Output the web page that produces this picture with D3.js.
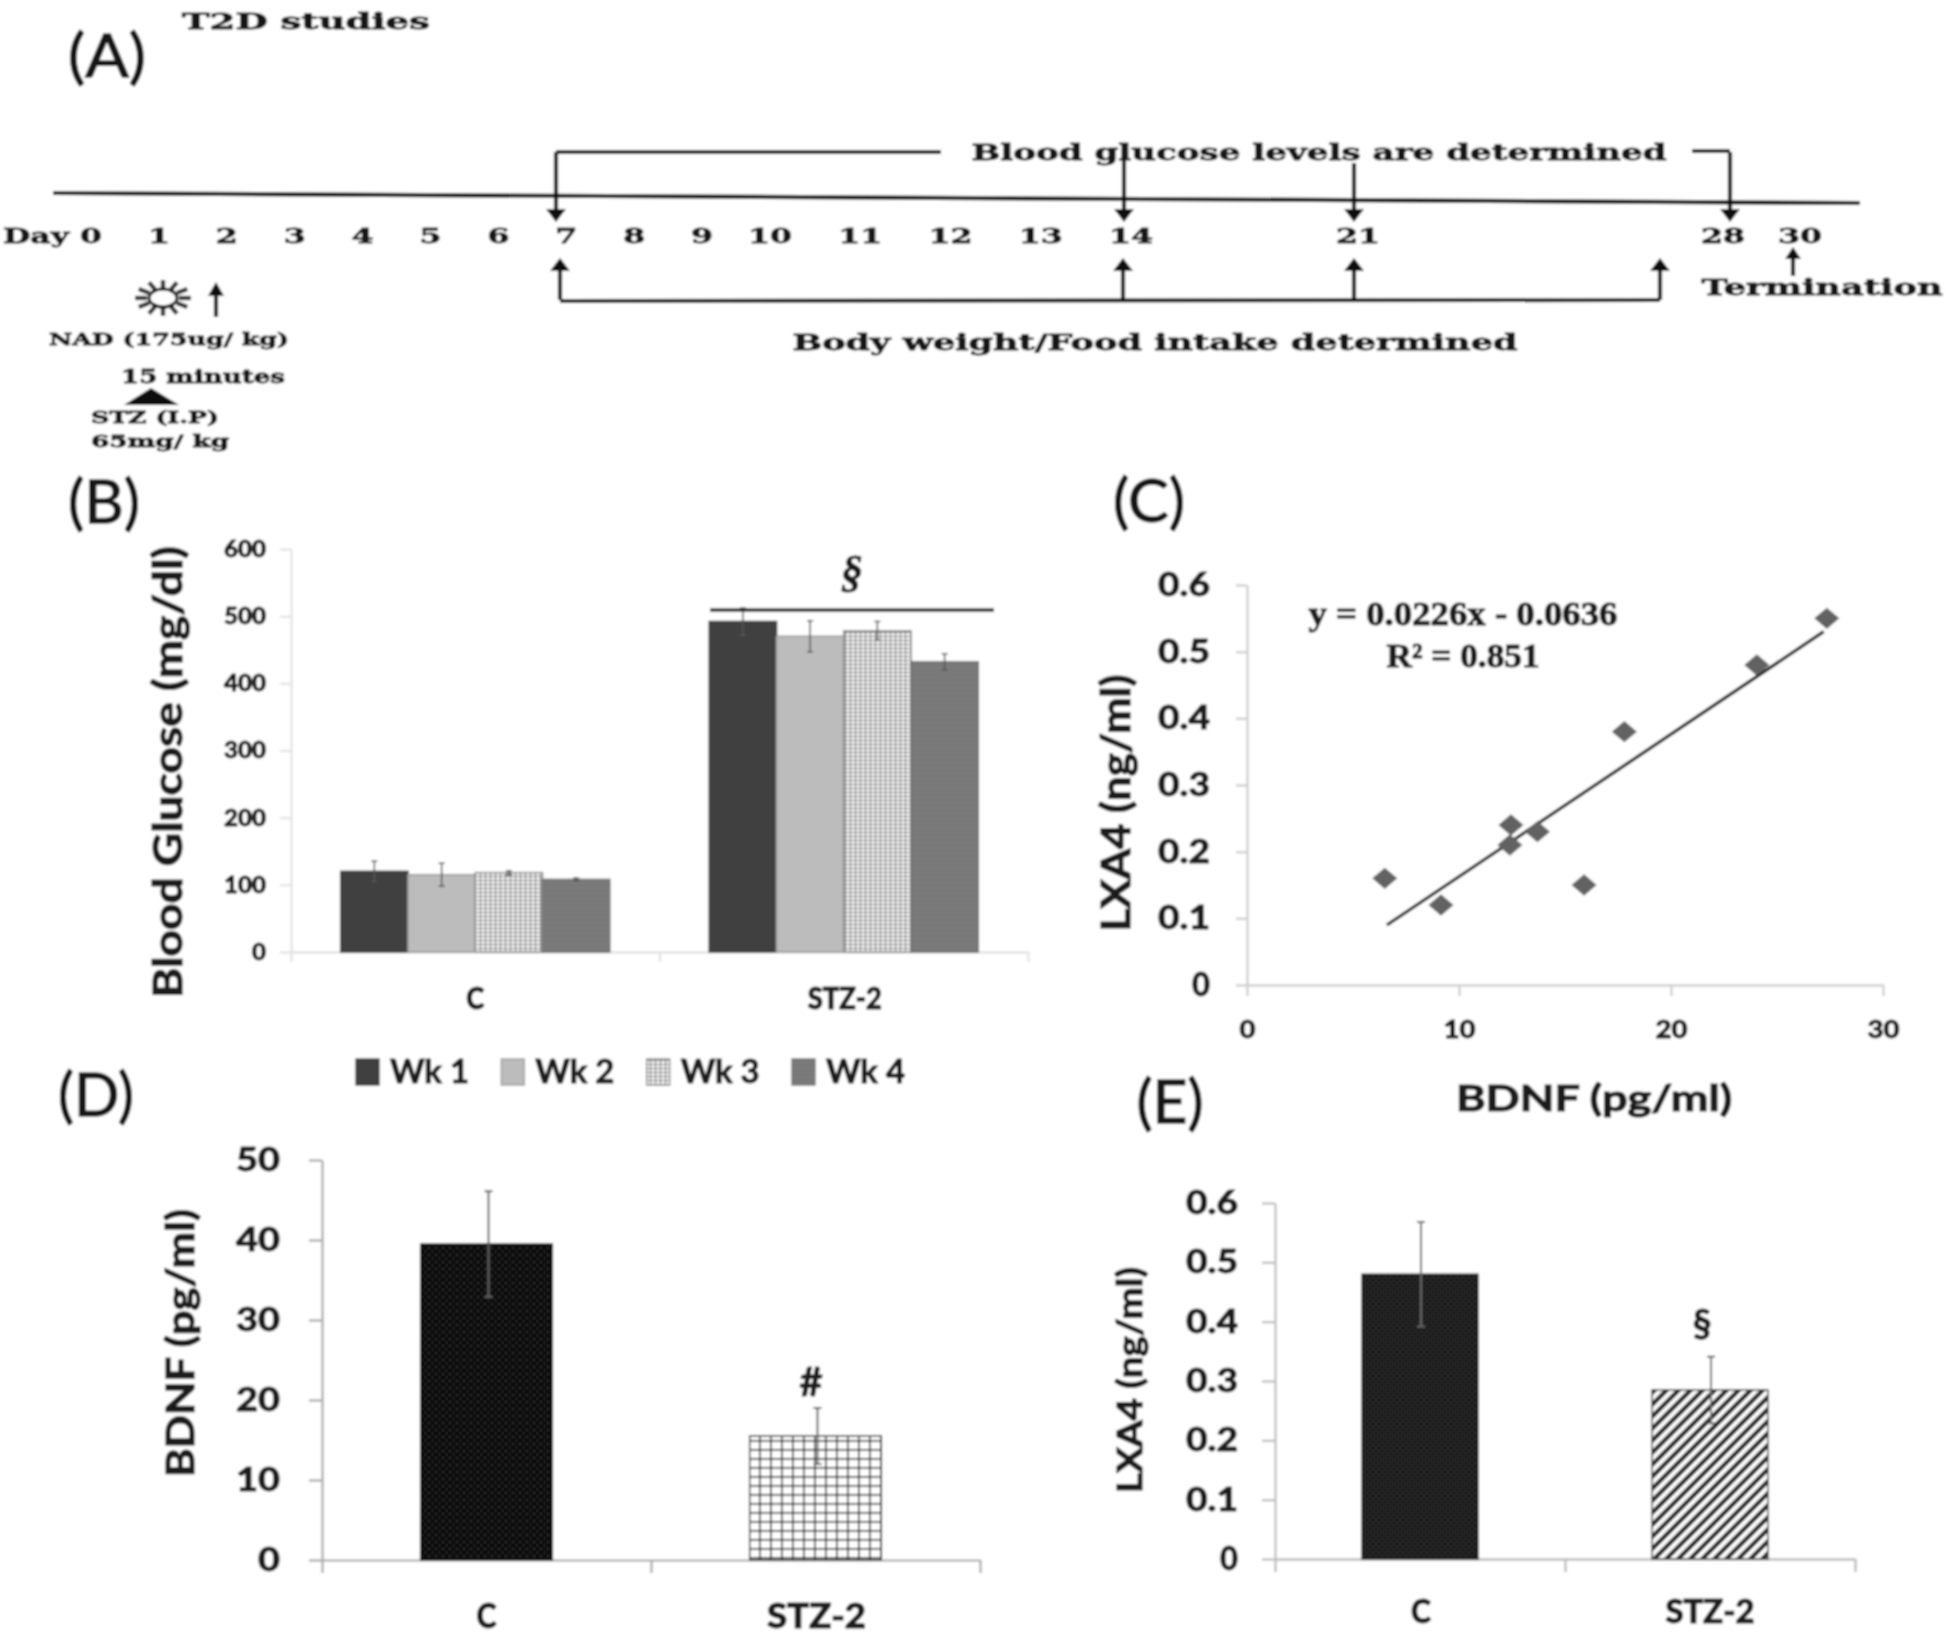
<!DOCTYPE html>
<html><head><meta charset="utf-8">
<script src="https://cdn.jsdelivr.net/npm/d3@7"></script>
<style>html,body{margin:0;padding:0;background:#fff}svg{display:block}</style>
</head><body><svg id="c" width="1946" height="1636"></svg>
<script>
// ---- data ----
const weeks = ["Wk 1","Wk 2","Wk 3","Wk 4"];
const groups = ["C","STZ-2"];
const glucoseC = [120,115,118,108];
const glucoseS = [492,470,478,432];
const glucoseErrC = [15,17,3,2];
const glucoseErrS = [20,23,14,12];
const glucoseTicks = [0,100,200,300,400,500,600];

const bdnfX = [6.5,9.15,12.4,12.45,13.7,15.9,17.8,24.05,27.35];
const lxaY  = [0.16,0.12,0.21,0.24,0.23,0.15,0.38,0.48,0.55];
const trendX = [6.6,27.2];
const trendY = [0.09,0.53];
const scatterXTicks = [0,10,20,30];
const lxaTicks = [0,0.1,0.2,0.3,0.4,0.5,0.6];

const bdnfVals = [39.5,15.5];
const bdnfErr = [6.6,3.5];
const bdnfTicks = [0,10,20,30,40,50];
const lxaVals = [0.48,0.285];
const lxaErr = [0.088,0.056];

const dayLabels = [0,1,2,3,4,5,6,7,8,9,10,11,12,13,14,21,28,30];
const arrowDays = [7,14,21,28];

// ---- setup ----
const svg = d3.select("#c");
const defs = svg.append("defs");
defs.append("filter").attr("id","soft").attr("filterUnits","userSpaceOnUse")
  .attr("x",0).attr("y",0).attr("width",1946).attr("height",1636)
  .append("feGaussianBlur").attr("stdDeviation",0.95);
function pat(id,w,h,bg,draw,tr){
  const p=defs.append("pattern").attr("id",id).attr("patternUnits","userSpaceOnUse").attr("width",w).attr("height",h);
  if(tr)p.attr("patternTransform",tr);
  p.append("rect").attr("width",w).attr("height",h).attr("fill",bg);
  draw(p);
}
pat("pWk3",5,4,"#f4f4f4",p=>{
  p.append("path").attr("d","M0 0H5M0 0V4").attr("stroke","#4f4f4f").attr("stroke-width",1.7);
});
pat("pWk4",6,5,"#7b7b7b",p=>{
  p.append("path").attr("d","M0 0H6").attr("stroke","#6c6c6c").attr("stroke-width",1);
});
pat("pWk1",8,6,"#404040",p=>{
  p.append("path").attr("d","M0 0V6").attr("stroke","#373737").attr("stroke-width",1);
});
pat("pDotK",7,7,"#0d0d0d",p=>{
  p.append("circle").attr("cx",2).attr("cy",2).attr("r",.9).attr("fill","#3a3a3a");
  p.append("circle").attr("cx",5.5).attr("cy",5.5).attr("r",.9).attr("fill","#3a3a3a");
});
pat("pDotE",6,6,"#1d1d1d",p=>{
  p.append("circle").attr("cx",2).attr("cy",2).attr("r",1).attr("fill","#2f2f2f");
  p.append("circle").attr("cx",5).attr("cy",5).attr("r",1).attr("fill","#2f2f2f");
});
pat("pGrid",11,9,"#fff",p=>{
  p.append("path").attr("d","M0 0H11M0 0V9").attr("stroke","#000").attr("stroke-width",3);
});
pat("pDiag",8.5,8.5,"#fff",p=>{
  p.append("line").attr("x1",2.5).attr("x2",2.5).attr("y1",0).attr("y2",8.5).attr("stroke","#000").attr("stroke-width",4);
},"rotate(45)");

const root = svg.append("g").attr("filter","url(#soft)");
root.append("rect").attr("width",1946).attr("height",1636).attr("fill","#fff");

const SANS="Lato, 'Open Sans', sans-serif";
const SERIF="'DejaVu Serif', 'Liberation Serif', serif";
function label(str,x,y,o={}){
  const col=o.fill||"#1a1a1a";
  const t=root.append("text").text(str).attr("font-family",o.family||SANS)
    .attr("font-size",o.size||30).attr("font-weight",o.weight||"700")
    .attr("fill",col).attr("stroke",col).attr("stroke-width",o.bold===undefined?1:o.bold)
    .attr("text-anchor",o.anchor||"middle");
  if(o.italic)t.attr("font-style","italic");
  if(o.width)t.attr("textLength",o.width).attr("lengthAdjust","spacingAndGlyphs");
  if(o.rotate)t.attr("transform",`translate(${x},${y}) rotate(${o.rotate})`);
  else t.attr("x",x).attr("y",y);
  return t;
}
function styleAxis(g,col,sw,size){
  g.selectAll(".domain,line").attr("stroke",col).attr("stroke-width",sw);
  g.selectAll("text").attr("font-family",SANS).attr("font-size",size).attr("font-weight",900)
    .attr("fill","#1a1a1a").attr("stroke","#1a1a1a").attr("stroke-width",.8);
}
function fitTicks(g,perChar,dotted){
  g.selectAll("text").each(function(){
    const s=this.textContent; if(!s) return;
    const w=dotted&&s.includes(".")?dotted:perChar*s.length;
    d3.select(this).attr("textLength",w).attr("lengthAdjust","spacingAndGlyphs");
  });
}
function valueAxis(scale,x,ticks,fmt,col,sw,size,tickLen,pad,perChar,dotted){
  const a=d3.axisLeft(scale).tickValues(ticks).tickSize(tickLen).tickPadding(pad).tickFormat(fmt).tickSizeOuter(0);
  const g=root.append("g").attr("transform",`translate(${x},0)`).call(a);
  styleAxis(g,col,sw,size);
  fitTicks(g,perChar,dotted);
  return g;
}
function catAxis(band,y,col,sw,tickLen){
  const [a,b]=band.range();
  const edge=d3.scaleLinear().domain([0,groups.length]).range([a,b]);
  const g=root.append("g").attr("transform",`translate(0,${y})`)
    .call(d3.axisBottom(edge).tickValues(d3.range(groups.length+1)).tickSize(tickLen).tickFormat("").tickSizeOuter(0));
  styleAxis(g,col,sw,10);
}
function errBars(data,xf,yf,err,col,sw,cap){
  root.append("g").selectAll("path").data(data).join("path")
    .attr("d",(d,i)=>{const x=xf(d,i),t=yf(d.v+err(d,i)),b=yf(d.v-err(d,i));
      return `M${x} ${t}V${b}M${x-cap} ${t}H${x+cap}M${x-cap} ${b}H${x+cap}`;})
    .attr("fill","none").attr("stroke",col).attr("stroke-width",sw);
}
const fmt01=d=>d===0?"0":d3.format(".1f")(d);

// ---- Panel A: timeline ----
const dayX=d3.scaleLinear().domain([0,10,14,21,28,30]).range([91,770,1131,1358,1723,1800]);
const downX=d3.scaleOrdinal().domain(arrowDays).range([556,1124,1354,1730]);
const upX=d3.scaleOrdinal().domain(arrowDays).range([560,1123,1354,1660]);
const ink="#0c0c0c";
function line(x1,y1,x2,y2,w=4){root.append("line").attr("x1",x1).attr("y1",y1).attr("x2",x2).attr("y2",y2).attr("stroke",ink).attr("stroke-width",w);}
function arrow(x,y0,y1,hw=10,hh=13){
  line(x,y0,x,y1+(y1>y0?-hh+2:hh-2),4.2);
  root.append("path").attr("d",`M${x} ${y1}L${x-hw} ${y1+(y1>y0?-hh:hh)}H${x+hw}Z`).attr("fill",ink);
}
line(53,193,1860,203,4.2);
line(556,152,941,152);
line(1692,151,1730,151);
arrowDays.forEach((d,i)=>arrow(downX(d),i===0||i===3?152:(i===1?160:163),222));
line(560,301,1660,300);
arrowDays.forEach(d=>arrow(upX(d),300,258));
arrow(1793,276,247,8,12);
arrow(216,317,282,8,14);
root.append("path").attr("d","M151 388L124 405H179Z").attr("fill",ink);
// sun
const sunRays=d3.range(0,360,30);
root.append("g").selectAll("line").data(sunRays).join("line")
  .attr("x1",d=>163+16*Math.cos(d*Math.PI/180)).attr("y1",d=>298+10*Math.sin(d*Math.PI/180))
  .attr("x2",d=>163+28*Math.cos(d*Math.PI/180)).attr("y2",d=>298+18*Math.sin(d*Math.PI/180))
  .attr("stroke","#333").attr("stroke-width",4.4);
root.append("ellipse").attr("cx",163).attr("cy",298).attr("rx",14).attr("ry",9).attr("fill","#fff").attr("stroke",ink).attr("stroke-width",3);

const sf={family:SERIF,fill:"#141414",weight:"700",bold:.8};
label("T2D studies",306,29,{...sf,size:22,width:248});
label("Blood glucose levels are determined",1319,160,{...sf,size:23,width:695});
label("Body weight/Food intake determined",1155,350,{...sf,size:23,width:725});
label("Day",36,243,{...sf,size:21,width:66});
dayLabels.forEach(d=>label(String(d),dayX(d),243,{...sf,size:21,width:String(d).length*22}));
label("Termination",1822,295,{...sf,size:23,width:241});
label("NAD (175ug/ kg)",169,345,{...sf,size:17,width:240});
label("15 minutes",203,383,{...sf,size:18,width:164});
label("STZ (I.P)",155,423,{...sf,size:17,width:128});
label("65mg/ kg",160,447,{...sf,size:17,width:138});

const big={size:60,weight:"400",fill:"#141414",family:SANS,bold:1.4};
label("(A)",107,77,{...big,width:78});
label("(B)",104,523,{...big,width:72});
label("(C)",1149,522,{...big,width:72});
label("(D)",96,1116,{...big,width:76});
label("(E)",1170,1123,{...big,width:67});

// ---- Panel B ----
const bY=d3.scaleLinear().domain([0,600]).range([952,549]);
const bX=d3.scaleBand().domain(groups).range([291,1028]).paddingInner(.27).paddingOuter(.135);
const bS=d3.scaleBand().domain(weeks).range([0,bX.bandwidth()]);
const wkFill=d3.scaleOrdinal().domain(weeks).range(["url(#pWk1)","#bcbcbc","url(#pWk3)","url(#pWk4)"]);
const wkEdge=d3.scaleOrdinal().domain(weeks).range(["#3a3a3a","#9c9c9c","#8a8a8a","#6f6f6f"]);
const bData=[];
groups.forEach((g,gi)=>weeks.forEach((w,i)=>bData.push({g,w,
  v:(gi?glucoseS:glucoseC)[i], e:(gi?glucoseErrS:glucoseErrC)[i]})));
valueAxis(bY,291,glucoseTicks,d=>d,"#e0e0e0",2,23,11,14,14);
catAxis(bX,952,"#dedede",2,10);
root.append("g").selectAll("rect").data(bData).join("rect")
  .attr("x",d=>bX(d.g)+bS(d.w)).attr("y",d=>bY(d.v)).attr("width",bS.bandwidth())
  .attr("height",d=>bY(0)-bY(d.v)).attr("fill",d=>wkFill(d.w)).attr("stroke",d=>wkEdge(d.w)).attr("stroke-width",1.6);
errBars(bData,d=>bX(d.g)+bS(d.w)+bS.bandwidth()/2,bY,d=>d.e,"#555",1.5,3);
root.append("line").attr("x1",710).attr("x2",994).attr("y1",610).attr("y2",610).attr("stroke","#222").attr("stroke-width",3.6);
label("§",852,586,{family:"'Liberation Serif',serif",size:44,italic:true,weight:"700"});
label("Blood Glucose (mg/dl)",182,772,{size:41,width:452,rotate:-90,bold:1.2});
groups.forEach(g=>label(g,bX(g)+bX.bandwidth()/2+(g==="C"?0:1),1009,{size:30,width:g.length>1?74:18,weight:"900"}));
const lgX=d3.scalePoint().domain(weeks).range([356,792]);
root.append("g").selectAll("rect").data(weeks).join("rect")
  .attr("x",d=>lgX(d)).attr("y",1059).attr("width",23).attr("height",26)
  .attr("fill",wkFill).attr("stroke",wkEdge).attr("stroke-width",1.4);
weeks.forEach(w=>label(w,lgX(w)+34,1083,{size:33,anchor:"start",width:79}));

// ---- Panel C ----
const cX=d3.scaleLinear().domain([0,30]).range([1247,1883]);
const cY=d3.scaleLinear().domain([0,0.6]).range([985,585]);
valueAxis(cY,1247,lxaTicks,fmt01,"#d0d0d0",2.4,33,11,26,18,52);
const cxa=root.append("g").attr("transform","translate(0,985)")
  .call(d3.axisBottom(cX).tickValues(scatterXTicks).tickSize(11).tickPadding(24).tickFormat(d=>d).tickSizeOuter(0));
styleAxis(cxa,"#d0d0d0",2.4,25);
fitTicks(cxa,16);
root.append("path").datum(trendX.map((x,i)=>[x,trendY[i]]))
  .attr("d",d3.line().x(d=>cX(d[0])).y(d=>cY(d[1]))).attr("stroke","#0c0c0c").attr("stroke-width",3.2).attr("fill","none");
root.append("g").selectAll("path").data(bdnfX).join("path")
  .attr("d",d3.symbol(d3.symbolSquare,270))
  .attr("transform",(d,i)=>`translate(${cX(d)},${cY(lxaY[i])}) scale(1.08,.92) rotate(45)`)
  .attr("fill","#626262");
label("y = 0.0226x - 0.0636",1463,625,{family:"'Liberation Serif',serif",size:34,width:309});
label("R² = 0.851",1463,667,{family:"'Liberation Serif',serif",size:34,width:153});
label("LXA4 (ng/ml)",1130,803,{size:41,width:257,rotate:-90,bold:1.2});
label("BDNF (pg/ml)",1594,1111,{size:37,width:276,bold:1.2});

// ---- Panel D ----
const dY=d3.scaleLinear().domain([0,50]).range([1560,1160]);
const dX=d3.scaleBand().domain(groups).range([322,980]).paddingInner(.6).paddingOuter(.3);
const dFill=d3.scaleOrdinal().domain(groups).range(["url(#pDotK)","url(#pGrid)"]);
valueAxis(dY,322,bdnfTicks,d=>d,"#a8a8a8",2.2,33,13,29,22);
catAxis(dX,1560,"#a8a8a8",2.2,13);
const dData=groups.map((g,i)=>({g,v:bdnfVals[i],e:bdnfErr[i]}));
root.append("g").selectAll("rect").data(dData).join("rect")
  .attr("x",d=>dX(d.g)).attr("y",d=>dY(d.v)).attr("width",dX.bandwidth()).attr("height",d=>dY(0)-dY(d.v))
  .attr("fill",d=>dFill(d.g)).attr("stroke",d=>d.g==="C"?"#111":"#333").attr("stroke-width",1.5);
errBars(dData,d=>dX(d.g)+dX.bandwidth()/2+2,dY,d=>d.e,"#666",2,4);
label("#",811,1396,{size:40});
label("BDNF (pg/ml)",194,1343,{size:39,width:268,rotate:-90,bold:1.2});
groups.forEach(g=>label(g,dX(g)+dX.bandwidth()/2+(g==="C"?0:1),1628,{size:34,width:g.length>1?99:20,weight:"900"}));

// ---- Panel E ----
const eY=d3.scaleLinear().domain([0,0.6]).range([1559,1203]);
const eX=d3.scaleBand().domain(groups).range([1275,1855]).paddingInner(.6).paddingOuter(.3);
const eFill=d3.scaleOrdinal().domain(groups).range(["url(#pDotE)","url(#pDiag)"]);
valueAxis(eY,1275,lxaTicks,fmt01,"#bdbdbd",2.2,33,13,24,18,52);
catAxis(eX,1559,"#bdbdbd",2.4,13);
const eData=groups.map((g,i)=>({g,v:lxaVals[i],e:lxaErr[i]}));
root.append("g").selectAll("rect").data(eData).join("rect")
  .attr("x",d=>eX(d.g)).attr("y",d=>eY(d.v)).attr("width",eX.bandwidth()).attr("height",d=>eY(0)-eY(d.v))
  .attr("fill",d=>eFill(d.g)).attr("stroke",d=>d.g==="C"?"#1d1d1d":"#444").attr("stroke-width",1.5);
errBars(eData,d=>eX(d.g)+eX.bandwidth()/2+1,eY,d=>d.e,"#666",2,4);
label("§",1702,1337,{size:38});
label("LXA4 (ng/ml)",1142,1380,{size:34,width:226,rotate:-90,bold:1.2});
groups.forEach(g=>label(g,eX(g)+eX.bandwidth()/2+(g==="C"?1:0),1623,{size:32,width:g.length>1?89:20,weight:"900"}));
</script></body></html>
